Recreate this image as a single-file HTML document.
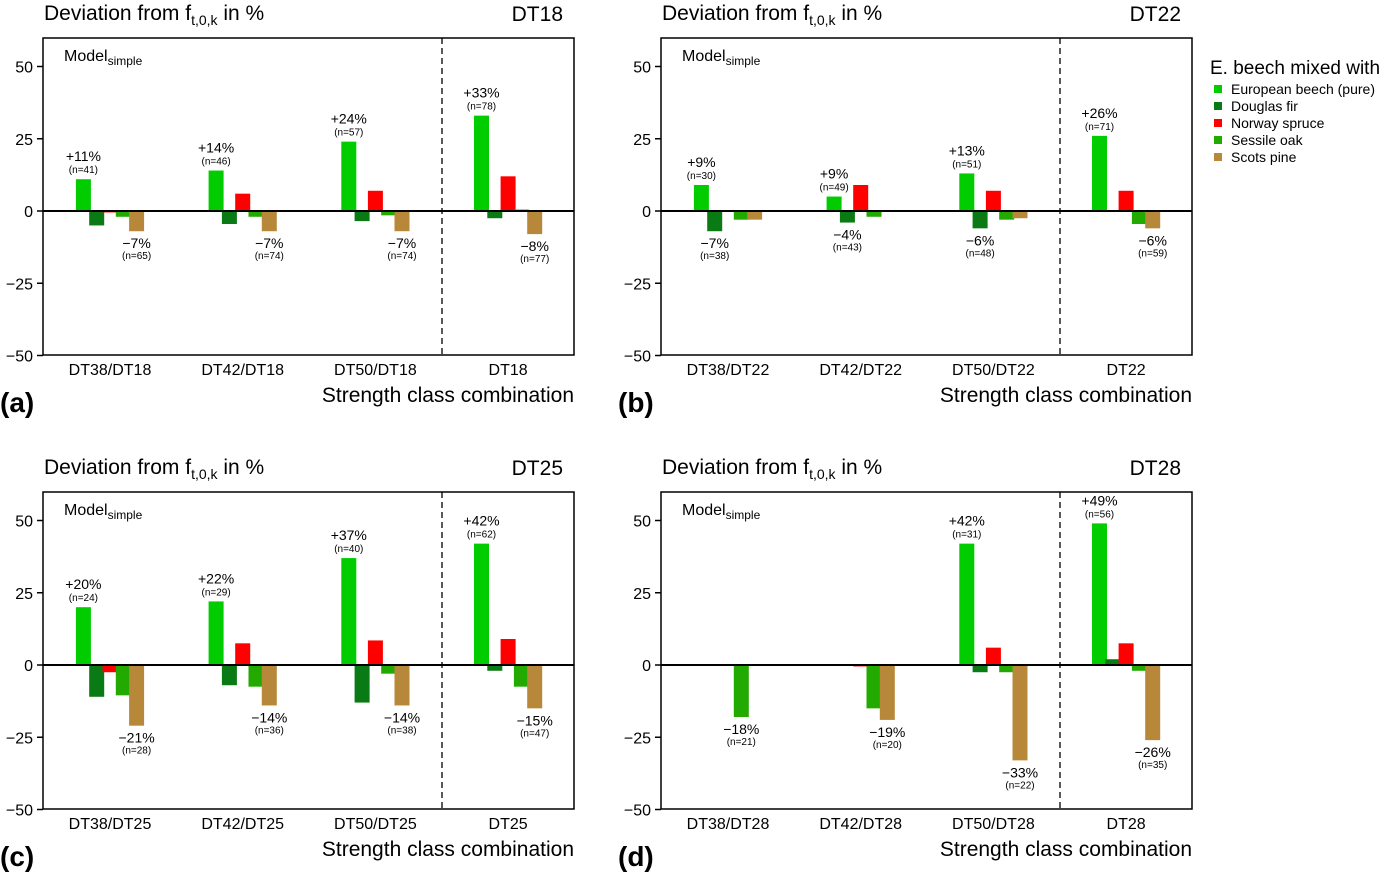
<!DOCTYPE html>
<html><head><meta charset="utf-8"><style>
body{margin:0;background:#fff}
svg{display:block;font-family:"Liberation Sans",Arial,sans-serif}
</style></head><body>
<svg id="fig" width="1381" height="874" viewBox="0 0 1381 874"></svg>
<script>
const species=["European beech (pure)","Douglas fir","Norway spruce","Sessile oak","Scots pine"];
const colors=["#00cc00","#0a7a14","#ff0000","#22aa00","#b8883a"];
const panelTitles=["DT18","DT22","DT25","DT28"];
const panelLetters=["(a)","(b)","(c)","(d)"];
const groupsA=["DT38/DT18","DT42/DT18","DT50/DT18","DT18"];
const groupsB=["DT38/DT22","DT42/DT22","DT50/DT22","DT22"];
const groupsC=["DT38/DT25","DT42/DT25","DT50/DT25","DT25"];
const groupsD=["DT38/DT28","DT42/DT28","DT50/DT28","DT28"];
const valuesA=[[11,-5,-0.5,-2,-7],[14,-4.5,6,-2,-7],[24,-3.5,7,-1.5,-7],[33,-2.5,12,0.5,-8]];
const valuesB=[[9,-7,0,-3,-3],[5,-4,9,-2,0],[13,-6,7,-3,-2.5],[26,0,7,-4.5,-6]];
const valuesC=[[20,-11,-2.5,-10.5,-21],[22,-7,7.5,-7.5,-14],[37,-13,8.5,-3,-14],[42,-2,9,-7.5,-15]];
const valuesD=[[0,0,0,-18,0],[0,0,-0.5,-15,-19],[42,-2.5,6,-2.5,-33],[49,2,7.5,-2,-26]];
const topLabelsA=[["+11%","(n=41)"],["+14%","(n=46)"],["+24%","(n=57)"],["+33%","(n=78)"]];
const botLabelsA=[["−7%","(n=65)"],["−7%","(n=74)"],["−7%","(n=74)"],["−8%","(n=77)"]];
const topLabelsB=[["+9%","(n=30)"],["+9%","(n=49)"],["+13%","(n=51)"],["+26%","(n=71)"]];
const botLabelsB=[["−7%","(n=38)"],["−4%","(n=43)"],["−6%","(n=48)"],["−6%","(n=59)"]];
const topLabelsC=[["+20%","(n=24)"],["+22%","(n=29)"],["+37%","(n=40)"],["+42%","(n=62)"]];
const botLabelsC=[["−21%","(n=28)"],["−14%","(n=36)"],["−14%","(n=38)"],["−15%","(n=47)"]];
const topLabelsD=[null,null,["+42%","(n=31)"],["+49%","(n=56)"]];
const botLabelsD=[["−18%","(n=21)"],["−19%","(n=20)"],["−33%","(n=22)"],["−26%","(n=35)"]];
const yTicks=[50,25,0,-25,-50];

const panels=[
 {dx:0,dy:0,g:groupsA,v:valuesA,t:topLabelsA,b:botLabelsA},
 {dx:618,dy:0,g:groupsB,v:valuesB,t:topLabelsB,b:botLabelsB},
 {dx:0,dy:454,g:groupsC,v:valuesC,t:topLabelsC,b:botLabelsC},
 {dx:618,dy:454,g:groupsD,v:valuesD,t:topLabelsD,b:botLabelsD}];
const svg=document.getElementById('fig');
const NS="http://www.w3.org/2000/svg";
function mk(tag,attrs,parent,text){const e=document.createElementNS(NS,tag);for(const k in attrs)e.setAttribute(k,attrs[k]);if(text!==undefined)e.textContent=text;(parent||svg).appendChild(e);return e;}

panels.forEach((p,pi)=>{
 const g=mk('g',{transform:`translate(${p.dx},${p.dy})`});
 
 
 const x0=43,x1=574;
 const y=v=>211-v*2.89;
 const gc=i=>110+i*132.7;
 const bc=(gi,si)=>gc(gi)+(si-2)*13.3;
 let t=mk('text',{x:44,y:20,'font-size':21},g);
 t.innerHTML='Deviation from f<tspan font-size="14" dy="5">t,0,k</tspan><tspan dy="-5"> in %</tspan>';
 
 t=mk('text',{x:563,y:21,'font-size':21,'text-anchor':'end'},g,panelTitles[pi]);
 
 t=mk('text',{x:64,y:61,'font-size':16},g);
 t.innerHTML='Model<tspan font-size="12" dy="4">simple</tspan>';
 
 yTicks.forEach(v=>{
  const l=mk('line',{x1:x0-6,x2:x0,y1:y(v),y2:y(v),stroke:'#000','stroke-width':1.5},g);
  
  const tt=mk('text',{x:33,y:y(v)+6,'font-size':16,'text-anchor':'end'},g,v<0?'−'+(-v):String(v));
  
 });
 p.v.forEach((vals,gi)=>{
  vals.forEach((v,si)=>{
   const r=mk('rect',{x:bc(gi,si)-7.5,y:Math.min(y(v),y(0)),width:15,height:Math.abs(y(v)-y(0)),fill:colors[si]},g);
   
   
  });
  const ti=p.t[gi];
  if(ti){const c0=bc(gi,0),ty=y(vals[0]);
   let a=mk('text',{x:c0,y:ty-18,'font-size':14,'text-anchor':'middle'},g,ti[0]);
   
   a=mk('text',{x:c0,y:ty-6,'font-size':10,'text-anchor':'middle'},g,ti[1]);
   }
  const bi=p.b[gi];
  if(bi){let mi=0;vals.forEach((v,k)=>{if(v<vals[mi])mi=k;});
   const cx=bc(gi,mi),by=y(vals[mi]);
   let a=mk('text',{x:cx,y:by+17,'font-size':14,'text-anchor':'middle'},g,bi[0]);
   
   a=mk('text',{x:cx,y:by+28,'font-size':10,'text-anchor':'middle'},g,bi[1]);
   }
  const xl=mk('text',{x:gc(gi),y:375,'font-size':16,'text-anchor':'middle'},g,p.g[gi]);
  
 });
 let l=mk('line',{x1:x0,x2:x1,y1:y(0),y2:y(0),stroke:'#000','stroke-width':2},g);
 
 l=mk('line',{x1:442,x2:442,y1:38,y2:355,stroke:'#000','stroke-width':1.3,'stroke-dasharray':'6,4'},g);
 
 const fr=mk('rect',{x:x0,y:38,width:x1-x0,height:317,fill:'none',stroke:'#000','stroke-width':1.5},g);
 
 t=mk('text',{x:574,y:402,'font-size':21,'text-anchor':'end'},g,'Strength class combination');
 
 t=mk('text',{x:0,y:412,'font-size':28,'font-weight':'bold'},g,panelLetters[pi]);
 
});
const lg=mk('g',{});


let lt=mk('text',{x:1210,y:74,'font-size':19},lg,'E. beech mixed with');

species.forEach((s,i)=>{
 const r=mk('rect',{x:1214,y:85+i*17,width:8,height:8,fill:colors[i]},lg);
 
 const tx=mk('text',{x:1231,y:94+i*17,'font-size':14},lg,s);
 
});
</script>
</body></html>
